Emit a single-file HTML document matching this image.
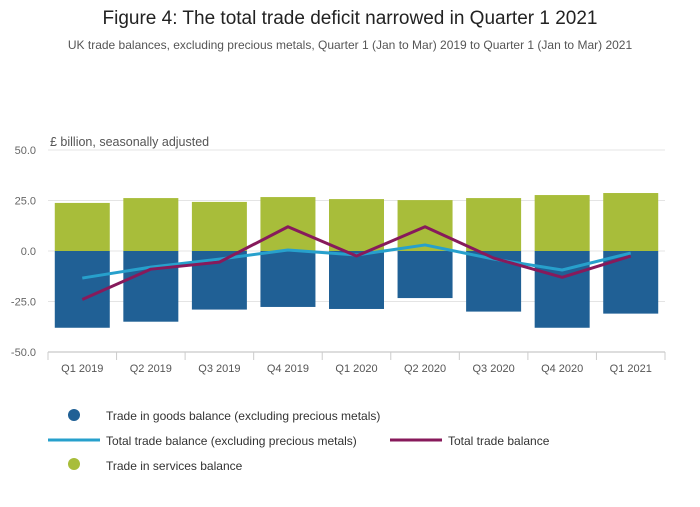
<!DOCTYPE html>
<html><head><meta charset="utf-8"><style>
body{margin:0;background:#fff;font-family:"Liberation Sans",sans-serif;}
svg text{font-family:"Liberation Sans",sans-serif;}
</style></head><body>
<svg width="700" height="502" xmlns="http://www.w3.org/2000/svg">
<text x="350" y="24" text-anchor="middle" font-size="19" fill="#222">Figure 4: The total trade deficit narrowed in Quarter 1 2021</text>
<text x="350" y="49" text-anchor="middle" font-size="12" fill="#555">UK trade balances, excluding precious metals, Quarter 1 (Jan to Mar) 2019 to Quarter 1 (Jan to Mar) 2021</text>
<text x="50" y="146" font-size="12.5" fill="#555">£ billion, seasonally adjusted</text>
<g id="grid"></g><g id="bars"></g><g id="lines"></g><g id="axes"></g>
<g>
<circle cx="74" cy="415" r="6" fill="#206095"/>
<text x="106" y="420" font-size="12" fill="#333">Trade in goods balance (excluding precious metals)</text>
<line x1="48" y1="440" x2="100" y2="440" stroke="#27a0cc" stroke-width="3"/>
<text x="106" y="445" font-size="12" fill="#333">Total trade balance (excluding precious metals)</text>
<line x1="390" y1="440" x2="442" y2="440" stroke="#871a5b" stroke-width="3"/>
<text x="448" y="445" font-size="12" fill="#333">Total trade balance</text>
<circle cx="74" cy="464" r="6" fill="#a8bd3a"/>
<text x="106" y="470" font-size="12" fill="#333">Trade in services balance</text>
</g>
</svg>
<script>
const categories=["Q1 2019","Q2 2019","Q3 2019","Q4 2019","Q1 2020","Q2 2020","Q3 2020","Q4 2020","Q1 2021"];
const goods=[-38,-35,-29,-27.7,-28.7,-23.3,-30,-38,-31];
const services=[23.8,26.2,24.3,26.7,25.7,25.2,26.2,27.7,28.7];
const totalEx=[-13.4,-8,-4,0.5,-2,3,-4,-9.4,-1];
const total=[-24,-9,-5.5,12,-2.5,12,-3.5,-13,-2.5];
const yTicks=[50,25,0,-25,-50];
const yTickLabels=["50.0","25.0","0.0","-25.0","-50.0"];
const NS="http://www.w3.org/2000/svg";
const x0=48,x1=665,yTop=150,yBot=352,ymax=50,ymin=-50;
const bw=(x1-x0)/categories.length;
const y=v=>yTop+(ymax-v)/(ymax-ymin)*(yBot-yTop);
const xc=i=>x0+bw*(i+0.5);
function mk(tag,attrs,parent){const e=document.createElementNS(NS,tag);for(const k in attrs)e.setAttribute(k,attrs[k]);document.getElementById(parent).appendChild(e);return e;}
yTicks.forEach((t,i)=>{
 const l=mk('line',{x1:x0,x2:x1,y1:y(t),y2:y(t),stroke:t===-50?'#bbb':'#e4e4e4'},'grid');
 
 
 const tx=mk('text',{x:36,y:y(t)+4,'text-anchor':'end','font-size':11,fill:'#666'},'axes');
 tx.textContent=yTickLabels[i];
 
 
});
categories.forEach((c,i)=>{
 const w=55,bx=xc(i)-w/2;
 const g=mk('rect',{x:bx,y:y(0),width:w,height:y(goods[i])-y(0),fill:'#206095'},'bars');
 
 
 const s=mk('rect',{x:bx,y:y(services[i]),width:w,height:y(0)-y(services[i]),fill:'#a8bd3a'},'bars');
 
 
 const tk=mk('line',{x1:x0+bw*(i+1),x2:x0+bw*(i+1),y1:yBot,y2:yBot+8,stroke:'#ccc'},'axes');
 
 
 const t=mk('text',{x:xc(i),y:372,'text-anchor':'middle','font-size':11,fill:'#555'},'axes');
 t.textContent=c;
 
 
});
const tk0=mk('line',{x1:x0,x2:x0,y1:yBot,y2:yBot+8,stroke:'#ccc'},'axes');


function line(vals,color,name){
 const p=mk('polyline',{points:vals.map((v,i)=>xc(i)+','+y(v)).join(' '),fill:'none',stroke:color,'stroke-width':3,'stroke-linejoin':'round'},'lines');
 
 
}
line(totalEx,'#27a0cc','line-total-ex-precious-metals');
line(total,'#871a5b','line-total-trade-balance');
</script>
</body></html>
